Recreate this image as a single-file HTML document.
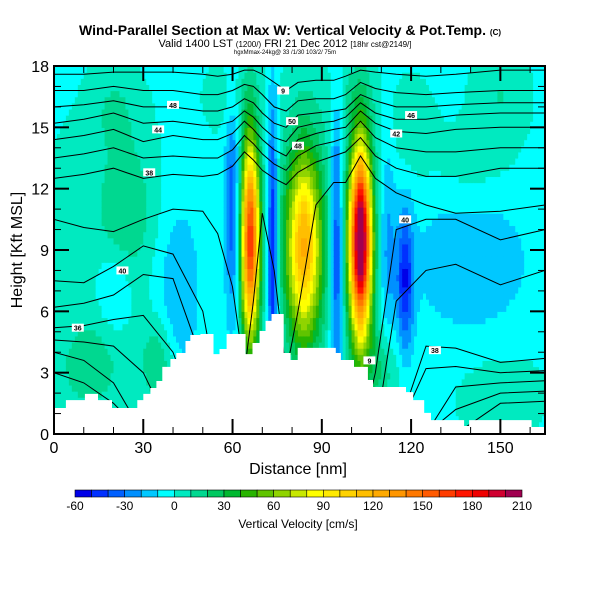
<!DOCTYPE html>
<html><head><meta charset="utf-8"><style>
html,body{margin:0;padding:0;background:#fff;width:600px;height:600px;overflow:hidden}
svg{display:block;font-family:"Liberation Sans",sans-serif}
</style></head><body>
<svg id="chart" width="600" height="600" viewBox="0 0 600 600">
<g>
<text x="290" y="35" text-anchor="middle" font-size="14" font-weight="bold">Wind-Parallel Section at Max W: Vertical Velocity &amp; Pot.Temp. <tspan font-size="8">(C)</tspan></text>
<text x="285" y="47" text-anchor="middle" font-size="11">Valid 1400 LST <tspan font-size="8">(1200/)</tspan> FRI 21 Dec 2012 <tspan font-size="8">[18hr cst@2149/]</tspan></text>
<text x="285" y="54" text-anchor="middle" font-size="6">hgxMmax-24kg@ 33 /1/30 103/2/ 75m</text>
</g>
<defs><clipPath id="pc"><rect x="54" y="66" width="491" height="368"/></clipPath></defs>
<g id="field" clip-path="url(#pc)"></g>
<g id="contours" clip-path="url(#pc)"></g>
<path id="terrain" fill="#fff" stroke="none"/>
<g id="labels"></g>
<rect x="54" y="66" width="491" height="368" fill="none" stroke="#000" stroke-width="2"/>
<g id="axes"></g>
<text x="298" y="474" text-anchor="middle" font-size="16">Distance [nm]</text>
<text transform="translate(22,250) rotate(-90)" text-anchor="middle" font-size="16">Height [Kft MSL]</text>
<g id="colorbar"></g>
<text x="298" y="528" text-anchor="middle" font-size="12">Vertical Velocity [cm/s]</text>
</svg>
<script>
// ---- data ----
const blobX   = [66, 84, 84, 103, 103, 73.5, 60, 95, 118, 112, 42, 140, 24, 35, 110, 20, 150, 20, 120, 10, 60, 5, 140, 100, 150, 15];
const blobY   = [9.5, 9, 10, 9.5, 9, 9, 11, 9, 7.5, 9, 7, 8.5, 11, 3.5, 3.2, 16, 16.5, 7, 15, 3, 16.5, 10, 13, 16.5, 2, 4];
const blobSX  = [2.2, 4, 6, 2.5, 4, 1.2, 1.8, 1.5, 2, 2, 5, 14, 7, 4, 4, 6, 6, 4, 5, 8, 6, 6, 10, 6, 10, 8];
const blobSY  = [3.5, 3.2, 4, 3.2, 4.5, 5, 4, 5, 2.5, 4, 3, 2.5, 2.5, 1.5, 1.5, 1.5, 1.5, 1.5, 1.5, 1.5, 1.2, 3, 1.5, 1.2, 1.5, 2];
const blobAmp = [170, 95, 30, 200, 30, -55, -35, -45, -45, -20, -18, -18, 22, 22, 22, 12, 12, -15, 10, 10, 10, 8, 8, 8, 8, 10];
const baseW = -2;
const binColors = ['#0000e8','#0030ff','#0060ff','#0090ff','#00c8ff','#00ffff','#00eac0','#00d890','#00c860','#00b830','#28b400','#60c400','#90d400','#c8e800','#ffff00','#ffea00','#ffd200','#ffbe00','#ffaa00','#ff9600','#ff7800','#ff5a00','#ff3c00','#ff1400','#f00000','#d00030','#a00050'];
const cbTicks = [-60,-30,0,30,60,90,120,150,180,210];
const xTicks = [0,30,60,90,120,150];
const yTicks = [0,3,6,9,12,15,18];
const terrD = [0,4,10.4,14.8,19.5,28,30,32.4,34.4,36.4,39.1,41.1,44.2,45.8,49.2,53.6,55.6,58,64.4,66.7,69.1,71.1,73.1,77.2,79.5,81.9,94.7,96.4,100.8,105.5,107.2,118.3,120.7,124.4,126.7,137.8,139.5,158.7,160.5];
const terrH = [1.27,1.66,1.96,1.66,1.27,1.66,1.96,2.25,2.59,3.28,3.67,3.96,4.55,4.84,4.89,3.91,4.16,4.89,3.91,4.45,5.04,5.53,5.87,3.96,3.62,4.21,3.96,3.62,3.28,2.64,2.30,2.05,1.66,1.03,0.68,0.39,0.68,0.68,0.34];
const cK = [0,10,20,30,40,50,55,60,64,67,70,74,78,82,88,94,98,103,108,115,125,135,150,165];
const c1 = [17.6,17.6,17.7,17.7,17.7,17.6,17.5,17.6,17.8,17.8,17.6,17.2,16.8,17.2,17.3,17.3,17.5,17.8,17.7,17.6,17.5,17.6,17.8,17.8];
const c2 = [16.8,16.8,17.0,16.8,16.8,16.6,16.6,16.8,17.1,17.0,16.6,16.0,15.8,16.3,16.4,16.4,16.6,17.2,16.9,16.7,16.6,16.7,16.8,16.8];
const c3 = [16.0,16.1,16.3,16.0,16.0,15.8,15.8,16.0,16.4,16.2,15.7,15.2,15.0,15.6,15.7,15.8,15.9,16.6,16.3,16.0,16.0,16.1,16.2,16.2];
const c4 = [15.2,15.4,15.7,15.2,15.3,15.1,15.1,15.3,15.8,15.5,15.0,14.5,14.3,15.0,15.2,15.3,15.5,16.2,15.7,15.4,15.4,15.6,15.7,15.7];
const c5 = [14.4,14.6,14.9,14.3,14.6,14.4,14.4,14.7,15.3,14.9,14.4,13.9,13.6,14.4,14.7,14.9,15.0,15.8,15.2,14.8,14.7,14.9,15.0,15.0];
const c6 = [13.5,13.7,14.0,13.5,13.6,13.5,13.5,13.9,14.6,14.2,13.7,13.2,12.9,13.6,14.1,14.3,14.5,15.3,14.5,14.0,13.8,13.8,14.0,14.0];
const c7 = [12.5,12.7,13.0,12.5,12.7,12.6,12.7,13.1,13.8,13.4,12.9,12.5,12.2,12.8,13.3,13.6,13.8,14.5,13.6,13.0,12.6,12.6,13.0,13.0];
const c8 = [10.5,10.1,9.9,10.5,11.0,10.9,9.8,7.2,3.0,6.5,10.8,8.0,3.0,6.0,11.2,12.3,12.3,13.6,12.5,11.8,11.2,10.8,10.9,11.2];
const c9 = [7.5,7.4,8.2,9.2,8.8,6.0,2.0,0,0,0,0,0,0,0,0,0,0,0,3.0,10.0,10.5,10.5,9.5,10.0];
const c10 = [6.2,6.4,6.8,7.8,7.6,3.5,0,0,0,0,0,0,0,0,0,0,0,0,0,6.5,8.0,8.3,7.3,8.0];
const c11 = [5.2,5.3,5.6,5.8,4.0,0,0,0,0,0,0,0,0,0,0,0,0,0,0,0,4.3,4.2,3.5,3.7];
const c12 = [4.6,4.5,4.3,3.0,0,0,0,0,0,0,0,0,0,0,0,0,0,0,0,0,3.2,3.3,3.0,3.1];
const c13 = [4.0,3.6,2.5,0,0,0,0,0,0,0,0,0,0,0,0,0,0,0,0,0,0,2.3,2.5,2.6];
const c14 = [3.0,2.5,1.5,0,0,0,0,0,0,0,0,0,0,0,0,0,0,0,0,0,0,1.2,2.0,2.1];
const c15 = [0,0,0,0,0,0,0,0,0,0,0,0,0,0,0,0,0,0,0,0,0,0,1.5,1.6];
const contourSet = [c1,c2,c3,c4,c5,c6,c7,c8,c9,c10,c11,c12,c13,c14,c15];
// ---- scales ----
const X0=54, X1=545, Y0=434, Y1=66, DMAX=165, HMAX=18;
const sx = d => X0 + d*(X1-X0)/DMAX;
const sy = h => Y0 - h*(Y0-Y1)/HMAX;
const NS='http://www.w3.org/2000/svg';
function mk(tag, attrs, parent){const e=document.createElementNS(NS,tag);for(const k in attrs)e.setAttribute(k,attrs[k]);parent.appendChild(e);return e;}
function W(d,h){let v=baseW;for(let i=0;i<blobX.length;i++){const a=(d-blobX[i])/blobSX[i],b=(h-blobY[i])/blobSY[i];v+=blobAmp[i]*Math.exp(-0.5*(a*a+b*b));}return v;}
function binOf(v){let i=Math.floor((v+60)/10);return Math.max(0,Math.min(26,i));}
// field cells
const field=document.getElementById('field');
const dD=1, dH=0.3;
for(let d=0; d<DMAX; d+=dD){for(let h=0; h<HMAX-1e-6; h+=dH){
  const v=W(d+dD/2,h+dH/2);
  const r=mk('rect',{x:sx(d).toFixed(2),y:sy(h+dH).toFixed(2),width:(sx(dD)-X0+0.6).toFixed(2),height:(sy(0)-sy(dH)+0.6).toFixed(2),fill:binColors[binOf(v)]},field);
  
  
}}
// contours
const cg=document.getElementById('contours');
contourSet.forEach((c,i)=>{
  const pts=cK.map((k,j)=>sx(k).toFixed(1)+','+sy(c[j]).toFixed(1)).join(' ');
  const p=mk('polyline',{points:pts,fill:'none',stroke:'#000','stroke-width':1},cg);
  
  
});
// terrain
let dp='M'+sx(0)+','+sy(0);
for(let i=0;i<terrD.length;i++){const nd=i+1<terrD.length?terrD[i+1]:DMAX;dp+=' L'+sx(terrD[i]).toFixed(1)+','+sy(terrH[i]).toFixed(1)+' L'+sx(nd).toFixed(1)+','+sy(terrH[i]).toFixed(1);}
dp+=' L'+sx(DMAX)+','+sy(0)+' Z';
document.getElementById('terrain').setAttribute('d',dp);
// contour labels
const labD=[40,35,32,23,8,77,80,82,120,115,118,128,106];
const labH=[16.1,14.9,12.8,8.0,5.2,16.8,15.3,14.1,15.6,14.7,10.5,4.1,3.6];
const labT=['48','44','38','40','36','9','50','48','46','42','40','38','9'];
const lg=document.getElementById('labels');
labD.forEach((d,i)=>{
  const g=mk('g',{},lg);
  
  
  mk('rect',{x:sx(d)-6,y:sy(labH[i])-4,width:12,height:8,fill:'#fff'},g);
  mk('text',{x:sx(d),y:sy(labH[i])+3,'text-anchor':'middle','font-size':7,'font-weight':'bold'},g).textContent=labT[i];
});
// axes
const ax=document.getElementById('axes');
for(let d=0; d<=160; d+=10){const major=d%30===0;const L=major?15:7;
  let t=mk('line',{x1:sx(d),x2:sx(d),y1:Y0,y2:Y0-L,stroke:'#000','stroke-width':major?2:1},ax);
  
  t=mk('line',{x1:sx(d),x2:sx(d),y1:Y1,y2:Y1+L,stroke:'#000','stroke-width':major?2:1},ax);
  }
for(let h=0; h<=18; h+=1){const major=h%3===0;const L=major?15:7;
  let t=mk('line',{x1:X0,x2:X0+L,y1:sy(h),y2:sy(h),stroke:'#000','stroke-width':major?2:1},ax);
  
  t=mk('line',{x1:X1,x2:X1-L,y1:sy(h),y2:sy(h),stroke:'#000','stroke-width':major?2:1},ax);
  }
xTicks.forEach(v=>{const t=mk('text',{x:sx(v),y:453,'text-anchor':'middle','font-size':16},ax);t.textContent=v;
  });
yTicks.forEach(v=>{const t=mk('text',{x:49,y:sy(v)+6,'text-anchor':'end','font-size':16},ax);t.textContent=v;
  });
// colorbar
const cb=document.getElementById('colorbar');
const CB0=75, CB1=522, cw=(CB1-CB0)/binColors.length;
binColors.forEach((c,i)=>{const r=mk('rect',{x:CB0+i*cw,y:490,width:cw,height:7,fill:c,stroke:'#000','stroke-width':0.6},cb);
  });
cbTicks.forEach(v=>{const t=mk('text',{x:CB0+(v+60)/10*cw,y:510,'text-anchor':'middle','font-size':12},cb);t.textContent=v;
  });
</script>
</body></html>
